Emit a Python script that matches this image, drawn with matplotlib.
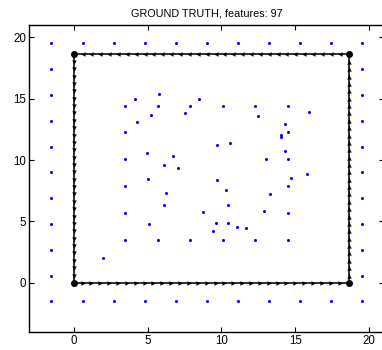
import numpy as np
import matplotlib.pyplot as plt

plt.rcParams['font.family'] = ['Liberation Sans', 'DejaVu Sans']

# landmarks on the outer ring
ring = [-1.5, 0.6, 2.7, 4.8, 6.9, 9.0, 11.1, 13.2, 15.3, 17.4, 19.5]

# landmarks inside the square
inner_x = [3.50, 4.18, 5.22, 5.71, 5.76, 7.54, 7.88, 8.45, 10.09, 12.28,
           12.49, 14.50, 15.90, 3.50, 4.27, 14.32, 14.02, 14.02, 14.50, 9.67,
           10.59, 4.99, 6.71, 3.50, 12.99, 14.50, 14.32, 6.10, 7.09, 15.81,
           5.01, 9.67, 14.70, 3.50, 14.50, 10.30, 6.25, 13.26, 6.12, 10.43,
           8.74, 12.87, 3.50, 14.50, 5.08, 9.60, 10.43, 11.04, 11.65, 9.46,
           3.50, 5.71, 7.88, 10.09, 12.28, 14.50, 1.99]
inner_y = [14.44, 14.96, 13.66, 14.44, 15.39, 13.87, 14.44, 14.96, 14.44, 14.44,
           13.63, 14.44, 13.95, 12.28, 13.14, 12.95, 12.06, 11.87, 12.28, 11.22,
           11.38, 10.54, 10.35, 10.08, 10.11, 10.08, 10.78, 9.64, 9.32, 8.89,
           8.46, 8.34, 8.51, 7.89, 7.89, 7.59, 7.29, 7.21, 6.37, 6.37,
           5.77, 5.88, 5.69, 5.69, 4.79, 4.90, 4.85, 4.55, 4.47, 4.23,
           3.49, 3.49, 3.49, 3.49, 3.49, 3.49, 2.00]

# robot poses along one side of the square path
side = [0.0, 0.6, 1.2, 1.8, 2.4, 3.0, 3.6, 4.2, 4.8, 5.4, 6.0, 6.6, 7.2, 7.8,
        8.4, 9.0, 9.6, 10.2, 10.8, 11.4, 12.0, 12.6, 13.2, 13.8, 14.4, 15.0,
        15.6, 16.2, 16.8, 17.4, 18.0, 18.6]
corners_x = [0.0, 18.6, 18.6, 0.0]
corners_y = [0.0, 0.0, 18.6, 18.6]

ring = np.array(ring)
side = np.array(side)
lm_x = np.concatenate([np.full(10, ring[0]), ring[:-1],
                       np.full(10, ring[-1]), ring[1:]])
lm_y = np.concatenate([ring[1:], np.full(10, ring[0]),
                       ring[:-1], np.full(10, ring[-1])])
lm_x = np.concatenate([lm_x, inner_x])
lm_y = np.concatenate([lm_y, inner_y])
n_features = len(lm_x)

fig = plt.figure(figsize=(3.82, 3.5), dpi=100)
ax = fig.add_axes([29.3 / 382, 18 / 350, 354.7 / 382, 307 / 350])

top = side[-1]
legs = [
    (side, np.zeros_like(side), '>'),
    (np.full_like(side, top), side, '^'),
    (side[::-1], np.full_like(side, top), '<'),
    (np.zeros_like(side), side[::-1], 'v'),
]
for px, py, m in legs:
    ax.plot(px, py, color='#111111', lw=1.2, marker=m, ms=2.8,
            mfc='black', mec='black', mew=0.2, zorder=2)
ax.plot(corners_x, corners_y, 'o', color='black', ms=4, zorder=3, ls='none')

ax.plot(lm_x, lm_y, 'o', color=(0, 0, 1), ms=2.2, mew=0, ls='none', zorder=4)

ax.set_xlim(-3, 21)
ax.set_ylim(-4, 21)
ax.set_xticks([0, 5, 10, 15, 20])
ax.set_yticks([0, 5, 10, 15, 20])
ax.tick_params(direction='in', length=3.5, width=0.8, labelsize=8.3,
               top=True, right=True, pad=2.5, colors='black')
for sp in ax.spines.values():
    sp.set_linewidth(1.0)

ax.set_title('GROUND TRUTH, features: %d' % n_features, fontsize=7.8, pad=6)

fig.savefig('out.png', dpi=100)
